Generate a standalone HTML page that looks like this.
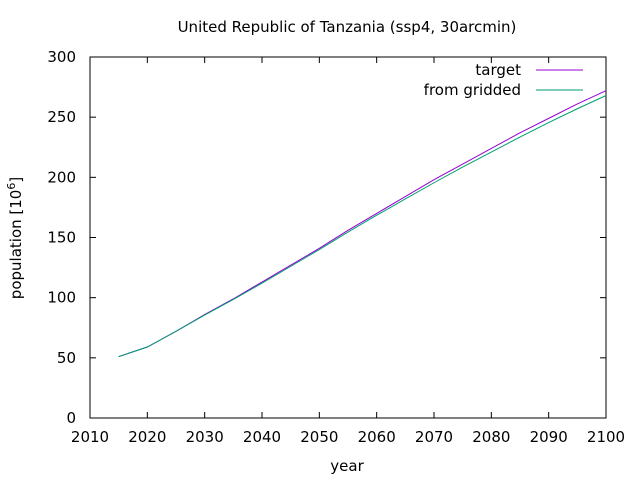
<!DOCTYPE html>
<html><head><meta charset="utf-8"><style>
body{margin:0;background:#fff}
svg{font-family:"DejaVu Sans","Liberation Sans",sans-serif;font-size:15px}
</style></head><body>
<svg id="chart" width="640" height="480" viewBox="0 0 640 480">
<rect width="640" height="480" fill="#fff"/>
<text x="347" y="32" text-anchor="middle">United Republic of Tanzania (ssp4, 30arcmin)</text>
<text transform="translate(21,238) rotate(-90)" text-anchor="middle">population [10<tspan dy="-6" font-size="11">6</tspan><tspan dy="6">]</tspan></text>
<text x="347" y="471" text-anchor="middle">year</text>
<g id="axes"></g>
<g id="series"></g>
<g>
<text x="521" y="75" text-anchor="end">target</text>
<line x1="536" y1="70" x2="583" y2="70" stroke="#9400d3"/>
<text x="521" y="95" text-anchor="end">from gridded</text>
<line x1="536" y1="90" x2="583" y2="90" stroke="#009e73"/>
</g>
</svg>
<script>
const years=[2015,2020,2025,2030,2035,2040,2045,2050,2055,2060,2065,2070,2075,2080,2085,2090,2095,2100];
const target=[51,59,72,86,99,113,127,141,156,170,184,198,211,224,237,249,261,272];
const gridded=[51,59,72,85.5,98.5,112,126,140,154.5,168.5,182,195.5,208.5,221,233.5,245.5,257,268];
const xTicks=[2010,2020,2030,2040,2050,2060,2070,2080,2090,2100];
const yTicks=[0,50,100,150,200,250,300];
const X0=90,X1=606,Y0=418,Y1=57;
const xs=v=>X0+(v-2010)/90*(X1-X0);
const ys=v=>Y0-(v/300)*(Y0-Y1);
const NS="http://www.w3.org/2000/svg";
const axes=document.getElementById('axes'),series=document.getElementById('series');
function mk(t,a,p){const e=document.createElementNS(NS,t);for(const k in a)e.setAttribute(k,a[k]);p.appendChild(e);return e;}
const frame=mk('rect',{x:X0,y:Y1,width:X1-X0,height:Y0-Y1,fill:'none',stroke:'#000'},axes);


xTicks.forEach(v=>{const x=xs(v);
mk('line',{x1:x,y1:Y0,x2:x,y2:Y0-6,stroke:'#000'},axes);
mk('line',{x1:x,y1:Y1,x2:x,y2:Y1+6,stroke:'#000'},axes);
const t=mk('text',{x:x,y:Y0+24,'text-anchor':'middle'},axes);t.textContent=v;

});
yTicks.forEach(v=>{const y=ys(v);
mk('line',{x1:X0,y1:y,x2:X0+6,y2:y,stroke:'#000'},axes);
mk('line',{x1:X1,y1:y,x2:X1-6,y2:y,stroke:'#000'},axes);
const t=mk('text',{x:X0-14,y:y+5,'text-anchor':'end'},axes);t.textContent=v;

});
function line(d,c,n){const p=mk('polyline',{points:years.map((y,i)=>xs(y)+','+ys(d[i])).join(' '),fill:'none',stroke:c,'stroke-width':1},series);

}
line(target,'#9400d3','target-line');
line(gridded,'#009e73','gridded-line');
</script>
</body></html>
